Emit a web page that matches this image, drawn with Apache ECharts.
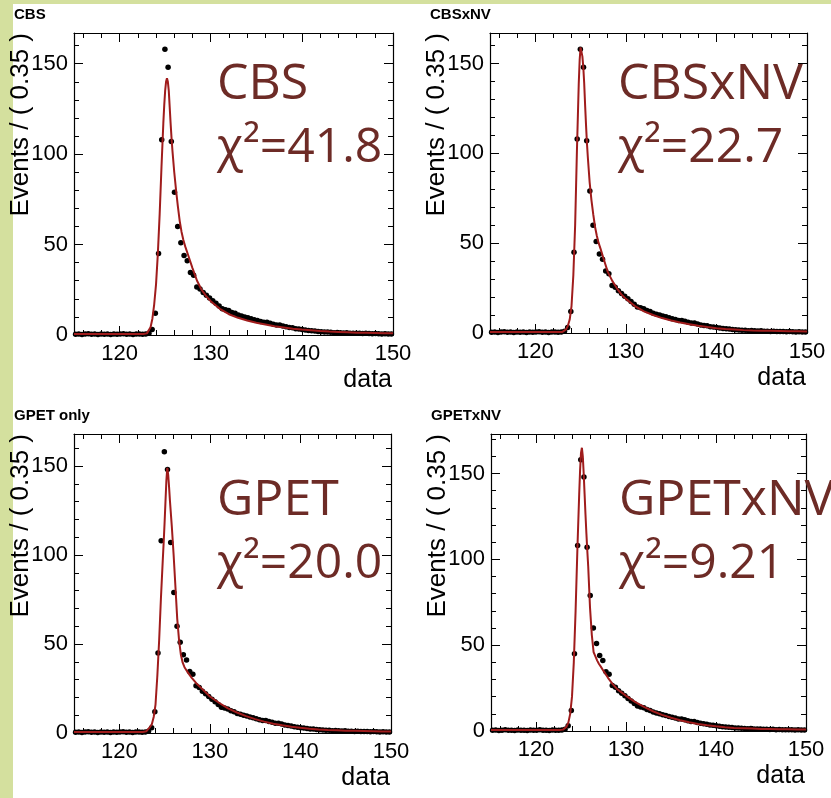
<!DOCTYPE html>
<html>
<head>
<meta charset="utf-8">
<title>Fit comparison</title>
<script src="https://cdn.jsdelivr.net/npm/echarts@6.0.0/dist/echarts.min.js"></script>
<style>
  html, body { margin: 0; padding: 0; background: #fff; }
  #main { width: 831px; height: 798px; }
</style>
</head>
<body>
<div id="main"></div>
<script>
// histogram binning
var binLow = 115, binWidth = 0.35;

// events per bin (same data in all four panels)
var dataCounts = [
  0.4, 0.6, 0.3, 0.5, 0.7, 0.4, 0.5, 0.3, 0.6, 0.4,
  0.5, 0.3, 0.6, 0.4, 0.5, 0.7, 0.4, 0.5, 0.3, 0.6,
  0.5, 0.4, 0.6, 1.0, 3.0, 12, 45, 108, 158, 148,
  107, 79, 60, 51, 44, 41, 34.5, 33, 26.5, 25.5,
  23.5, 22, 20.5, 19, 17.5, 16, 14.5, 14, 13.5, 12.5,
  12, 11, 10.5, 10, 9.5, 9, 8.5, 8, 7.5, 7,
  7, 6.5, 6, 5.5, 5.5, 5, 4.5, 4.2, 4, 3.5,
  3.3, 3, 2.8, 2.5, 2.3, 2.2, 2, 1.8, 1.7, 1.6,
  1.5, 1.3, 1.4, 1.2, 1.1, 1.2, 1, 1, 0.9, 1,
  0.8, 0.9, 0.8, 0.7, 0.8, 0.7, 0.6, 0.7, 0.6, 0.6
];

// fitted curves, sampled at curveX
var curveX = [115, 117, 119, 121, 122, 122.6, 123.0, 123.2, 123.4, 123.6, 123.8,
  124.0, 124.2, 124.4, 124.6, 124.8, 124.9, 125.0, 125.1, 125.2, 125.3, 125.4,
  125.5, 125.6, 125.7, 125.8, 126.0, 126.2, 126.4, 126.6, 126.8, 127.0, 127.2,
  127.5, 128.0, 128.5, 129.0, 129.5, 130, 131, 132, 133, 134, 135, 136, 137,
  138, 139, 140, 141, 142, 143, 144, 145, 146, 147, 148, 149, 150];

var fitCBS = [0.5, 0.5, 0.5, 0.5, 0.5, 0.6, 0.9, 2, 4.3, 9, 17,
  28, 45, 67, 93, 117, 127, 135, 140, 142, 140, 135,
  126, 117, 109, 102, 90, 80, 71, 63, 57, 52.5, 49,
  44.5, 37, 30, 25, 21.5, 18.7, 14.5, 11.5, 9.5, 8, 6.8, 5.8, 4.8,
  4.2, 3.5, 3, 2.6, 2.2, 1.9, 1.7, 1.5, 1.3, 1.2, 1.1, 1, 0.9];

var fitCBSxNV = [0.5, 0.5, 0.5, 0.5, 0.5, 0.5, 0.6, 1, 2, 4, 7.5,
  15, 32, 60, 102, 139, 152, 159, 159, 154, 148, 139,
  127, 116, 106, 98, 84, 74, 66, 59, 54, 50, 47,
  42, 34, 29, 25, 21.5, 19, 15, 12, 10, 8.3, 7, 5.8, 4.9,
  4, 3.3, 2.7, 2.2, 1.9, 1.6, 1.4, 1.3, 1.2, 1.1, 1, 1, 0.9];

var fitGPET = [0.6, 0.6, 0.6, 0.6, 0.6, 0.6, 1, 2, 3.5, 5, 9,
  16, 32, 52, 76, 97, 107, 118, 130, 142, 149, 145,
  138, 130, 123, 116, 100, 82, 64, 52, 44, 39.5, 37,
  34.5, 31, 28, 25.5, 23, 20.5, 17, 13.8, 11.5, 9.5, 7.8, 6.4, 5.2,
  4.3, 3.5, 2.9, 2.4, 2, 1.7, 1.5, 1.3, 1.2, 1.1, 1, 0.9, 0.9];

var fitGPETxNV = [0.6, 0.6, 0.6, 0.6, 0.6, 0.6, 0.8, 1.2, 2.5, 5, 10,
  20, 40, 70, 106, 138, 152, 162, 165, 160, 150, 138,
  126, 115, 105, 96, 72, 56, 46, 43.5, 41, 39, 37.5,
  35, 31, 27.5, 24.5, 22.5, 20.5, 17, 14, 11.5, 9.4, 7.7, 6.3, 5.1,
  4.1, 3.3, 2.7, 2.2, 1.8, 1.6, 1.4, 1.2, 1.1, 1, 1, 0.9, 0.9];

// tick labels
var xTickValues = [120, 130, 140, 150];
var yTickValues = [0, 50, 100, 150];

// panel texts
var panelTitles = ['CBS', 'CBSxNV', 'GPET only', 'GPETxNV'];
var modelNames = ['CBS', 'CBSxNV', 'GPET', 'GPETxNV'];
var chi2Values = ['41.8', '22.7', '20.0', '9.21'];
var yMaxValues = [167, 167, 168, 173];
var fits = [fitCBS, fitCBSxNV, fitGPET, fitGPETxNV];

// panel frames in pixels
var frames = [
  { left: 74, top: 33, width: 319, height: 302 },
  { left: 490, top: 33, width: 317, height: 300 },
  { left: 74, top: 434, width: 317, height: 299 },
  { left: 491, top: 434, width: 315, height: 297 }
];

var tickFont = 'Liberation Sans';
var noteColor = '#6d2b26';
var fitColor = '#a01c1c';

var points = dataCounts.map(function (v, i) {
  return [binLow + binWidth * (i + 0.5), v];
});

function xAx(i, pos, labels) {
  return {
    type: 'value', gridIndex: i, position: pos, min: 115, max: 150, splitNumber: 4,
    axisLine: { show: true, onZero: false, lineStyle: { color: '#000', width: 1.2 } },
    axisTick: { show: true, inside: true, length: 9, customValues: xTickValues, lineStyle: { color: '#000' } },
    minorTick: { show: true, splitNumber: 5, length: 5, lineStyle: { color: '#000' } },
    axisLabel: { show: labels, customValues: xTickValues, margin: 8, fontSize: 22, fontFamily: tickFont, color: '#000' },
    splitLine: { show: false }
  };
}
function yAx(i, pos, labels) {
  return {
    type: 'value', gridIndex: i, position: pos, min: 0, max: yMaxValues[i], splitNumber: 3,
    axisLine: { show: true, onZero: false, lineStyle: { color: '#000', width: 1.2 } },
    axisTick: { show: true, inside: true, length: 9, customValues: yTickValues, lineStyle: { color: '#000' } },
    minorTick: { show: true, splitNumber: 5, length: 5, lineStyle: { color: '#000' } },
    axisLabel: { show: labels, customValues: yTickValues, margin: 6, fontSize: 22, fontFamily: tickFont, color: '#000' },
    splitLine: { show: false }
  };
}

var grids = [], xAxes = [], yAxes = [], series = [], graphics = [];

// slide background strips
graphics.push({ type: 'rect', shape: { x: 0, y: 0, width: 13, height: 798 }, style: { fill: '#d4e09e' }, z: 0 });
graphics.push({ type: 'rect', shape: { x: 0, y: 0, width: 831, height: 4 }, style: { fill: '#d4e09e' }, z: 0 });

frames.forEach(function (f, i) {
  grids.push({ left: f.left, top: f.top, width: f.width, height: f.height, show: false });
  xAxes.push(xAx(i, 'bottom', true));
  xAxes.push(xAx(i, 'top', false));
  yAxes.push(yAx(i, 'left', true));
  yAxes.push(yAx(i, 'right', false));

  series.push({
    type: 'scatter', xAxisIndex: 2 * i, yAxisIndex: 2 * i,
    data: points, symbol: 'circle', symbolSize: 5.5,
    itemStyle: { color: '#000', opacity: 1 }, z: 2
  });
  series.push({
    type: 'line', xAxisIndex: 2 * i, yAxisIndex: 2 * i,
    data: curveX.map(function (x, k) { return [x, fits[i][k]]; }),
    showSymbol: false, smooth: false, clip: true,
    lineStyle: { color: fitColor, width: 2 }, z: 3
  });

  var right = f.left + f.width;
  var bottom = f.top + f.height;
  // panel title
  graphics.push({ type: 'text', x: f.left - 60, y: f.top - 26,
    style: { text: panelTitles[i], font: 'bold 15px "Liberation Sans"', fill: '#000', align: 'left', verticalAlign: 'top' } });
  // y axis title
  graphics.push({ type: 'text', x: f.left - 53, y: f.top, rotation: Math.PI / 2,
    style: { text: 'Events / ( 0.35 )', font: '26px "Liberation Sans"', fill: '#000', align: 'right', verticalAlign: 'middle' } });
  // x axis title
  graphics.push({ type: 'text', x: right - 1, y: bottom + 58,
    style: { text: 'data', font: '25px "Liberation Sans"', fill: '#000', align: 'right', verticalAlign: 'bottom' } });
  // model name and chi2
  var tx = f.left + (i % 2 === 0 ? 143 : 128);
  var ty = i < 2 ? f.top + 27 : f.top + 42;
  graphics.push({ type: 'text', x: tx, y: ty, z: 10,
    style: { text: modelNames[i], font: '50px "Open Sans"', fill: noteColor, align: 'left', verticalAlign: 'top' } });
  graphics.push({ type: 'text', x: tx, y: ty + 64, z: 10,
    style: { text: '\u03c7\u00b2=' + chi2Values[i], font: '48px "Open Sans"', fill: noteColor, align: 'left', verticalAlign: 'top' } });
});

var chart = echarts.init(document.getElementById('main'), null, { renderer: 'canvas' });
chart.setOption({
  backgroundColor: '#fff',
  animation: false,
  grid: grids,
  xAxis: xAxes,
  yAxis: yAxes,
  series: series,
  graphic: graphics
});
</script>
</body>
</html>
